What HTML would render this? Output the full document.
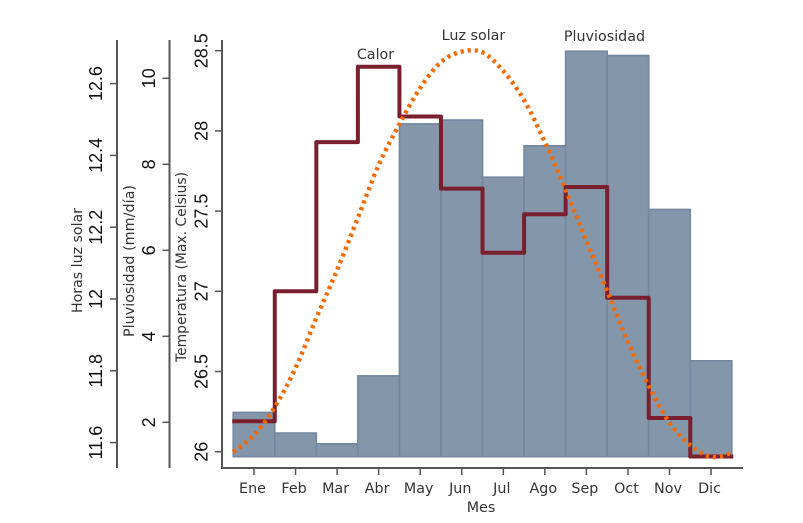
<!DOCTYPE html>
<html lang="es">
<head>
<meta charset="utf-8">
<title>Clima por mes</title>
<style>
html,body{margin:0;padding:0;background:#fff;}
svg{display:block;}
.tick{font-family:"Liberation Sans",sans-serif;font-size:18px;fill:#111;}
.lab{font-family:"DejaVu Sans",sans-serif;font-size:14.3px;fill:#333;}
</style>
</head>
<body>
<svg id="chart" xmlns="http://www.w3.org/2000/svg" width="803" height="523" viewBox="0 0 803 523"></svg>
<script>
const months = ['Ene','Feb','Mar','Abr','May','Jun','Jul','Ago','Sep','Oct','Nov','Dic'];
const rainValues = [2.23,1.75,1.5,3.08,8.94,9.03,7.7,8.43,10.63,10.53,6.95,3.43];
const tempValues = [26.19,27,27.93,28.4,28.09,27.64,27.24,27.48,27.65,26.96,26.21,25.97];
const sunMonths = [0.5,1,1.5,2,2.5,3,3.5,4,4.5,5,5.5,6,6.5,7,7.5,8,8.5,9,9.5,10,10.5,11,11.5,12,12.5];
const sunValues = [11.574,11.621,11.699,11.808,11.947,12.081,12.226,12.373,12.487,12.588,12.66,12.689,12.687,12.635,12.554,12.437,12.304,12.162,12.022,11.88,11.758,11.655,11.593,11.56,11.571];
const tempTicks = [26,26.5,27,27.5,28,28.5];
const rainTicks = [2,4,6,8,10];
const sunTicks = [11.6,11.8,12,12.2,12.4,12.6];
const rainBaseline = 1.2;

const svg = document.getElementById('chart');
const NS = 'http://www.w3.org/2000/svg';
const AXIS = '#555';

function xMonth(m){ return 254 + 41.55 * (m - 1); }
function yTemp(v){ return 451.7 - (v - 26) * 160.4; }
function yRain(v){ return 422.3 - (v - 2) * 43; }
function ySun(v){ return 299 - (v - 12) * 359; }

function make(tag, attrs, text){
  const el = document.createElementNS(NS, tag);
  for (const k in attrs) el.setAttribute(k, attrs[k]);
  if (text !== undefined) el.textContent = text;
  svg.appendChild(el);
  return el;
}
function fmt(v){ return String(v); }

/* bars */
rainValues.forEach(function(v, i){
  const cx = xMonth(i + 1);
  const top = yRain(v);
  const bottom = yRain(rainBaseline);
  const bar = make('rect', {x: cx - 20.78, y: top, width: 41.55, height: bottom - top, fill: '#8396aa', stroke: '#7287a0', 'stroke-width': 1.6});
  
  
});

/* temperature step line */
let stepPath = '';
tempValues.forEach(function(v, i){
  const cx = xMonth(i + 1);
  const y = yTemp(v);
  const x0 = cx - 20.78;
  const x1 = cx + 20.78;
  stepPath += (i === 0 ? 'M' + (x0 - 1) : 'L' + x0) + ' ' + y + ' L' + (i === tempValues.length - 1 ? x1 + 1.5 : x1) + ' ' + y + ' ';
});
const tempLine = make('path', {d: stepPath, fill: 'none', stroke: '#7a1f2e', 'stroke-width': 4, 'stroke-linejoin': 'round'});



/* sunlight dotted curve */
const sunPts = sunValues.map(function(v, i){ return [xMonth(sunMonths[i]), ySun(v)]; });
let sunPath = 'M' + sunPts[0][0] + ' ' + sunPts[0][1];
for (let i = 0; i < sunPts.length - 1; i++){
  const p0 = sunPts[Math.max(i - 1, 0)];
  const p1 = sunPts[i];
  const p2 = sunPts[i + 1];
  const p3 = sunPts[Math.min(i + 2, sunPts.length - 1)];
  sunPath += ' C' + (p1[0] + (p2[0] - p0[0]) / 6) + ' ' + (p1[1] + (p2[1] - p0[1]) / 6) + ' ' + (p2[0] - (p3[0] - p1[0]) / 6) + ' ' + (p2[1] - (p3[1] - p1[1]) / 6) + ' ' + p2[0] + ' ' + p2[1];
}
const sunLine = make('path', {d: sunPath, fill: 'none', stroke: '#f56a00', 'stroke-width': 4.4, 'stroke-dasharray': '3.2 3.9'});



/* vertical axes */
function vAxis(name, x, ticks, scale, labelX){
  const line = make('line', {x1: x, y1: 40, x2: x, y2: 468, stroke: AXIS, 'stroke-width': 2});
  
  
  ticks.forEach(function(t){
    const y = scale(t);
    const tk = make('line', {x1: x - 7, y1: y, x2: x, y2: y, stroke: AXIS, 'stroke-width': 1.5});
    
    
    const lb = make('text', {class: 'tick', x: labelX, y: y, 'text-anchor': 'middle', 'dominant-baseline': 'central', transform: 'rotate(-90 ' + labelX + ' ' + y + ')'}, fmt(t));
    
    
  });
}
vAxis('temperature', 222, tempTicks, yTemp, 201.5);
vAxis('rain', 169.5, rainTicks, yRain, 149);
vAxis('sun', 117, sunTicks, ySun, 96);

/* x axis */
const xLine = make('line', {x1: 221, y1: 468, x2: 743, y2: 468, stroke: AXIS, 'stroke-width': 2});


months.forEach(function(m, i){
  const x = xMonth(i + 1);
  const tk = make('line', {x1: x, y1: 468, x2: x, y2: 475, stroke: AXIS, 'stroke-width': 1.5});
  
  
  const lb = make('text', {class: 'lab', x: x - 1.5, y: 493, 'text-anchor': 'middle'}, m);
  
  
});

/* titles */
function vTitle(name, text, x, y, len){
  const t = make('text', {class: 'lab', x: x, y: y, 'text-anchor': 'middle', 'dominant-baseline': 'central', textLength: len, lengthAdjust: 'spacingAndGlyphs', transform: 'rotate(-90 ' + x + ' ' + y + ')', style: 'font-size:13.8px'}, text);
  
  
}
vTitle('sun-axis-title', 'Horas luz solar', 78, 260.5, 105);
vTitle('rain-axis-title', 'Pluviosidad (mm/día)', 130, 261, 152);
vTitle('temperature-axis-title', 'Temperatura (Max. Celsius)', 182, 267, 190);

const xTitle = make('text', {class: 'lab', x: 481, y: 512, 'text-anchor': 'middle'}, 'Mes');



const calor = make('text', {class: 'lab', x: 375.5, y: 59, 'text-anchor': 'middle'}, 'Calor');


const luz = make('text', {class: 'lab', x: 473.5, y: 40, 'text-anchor': 'middle'}, 'Luz solar');


const pluv = make('text', {class: 'lab', x: 604.5, y: 41, 'text-anchor': 'middle'}, 'Pluviosidad');


</script>
</body>
</html>
